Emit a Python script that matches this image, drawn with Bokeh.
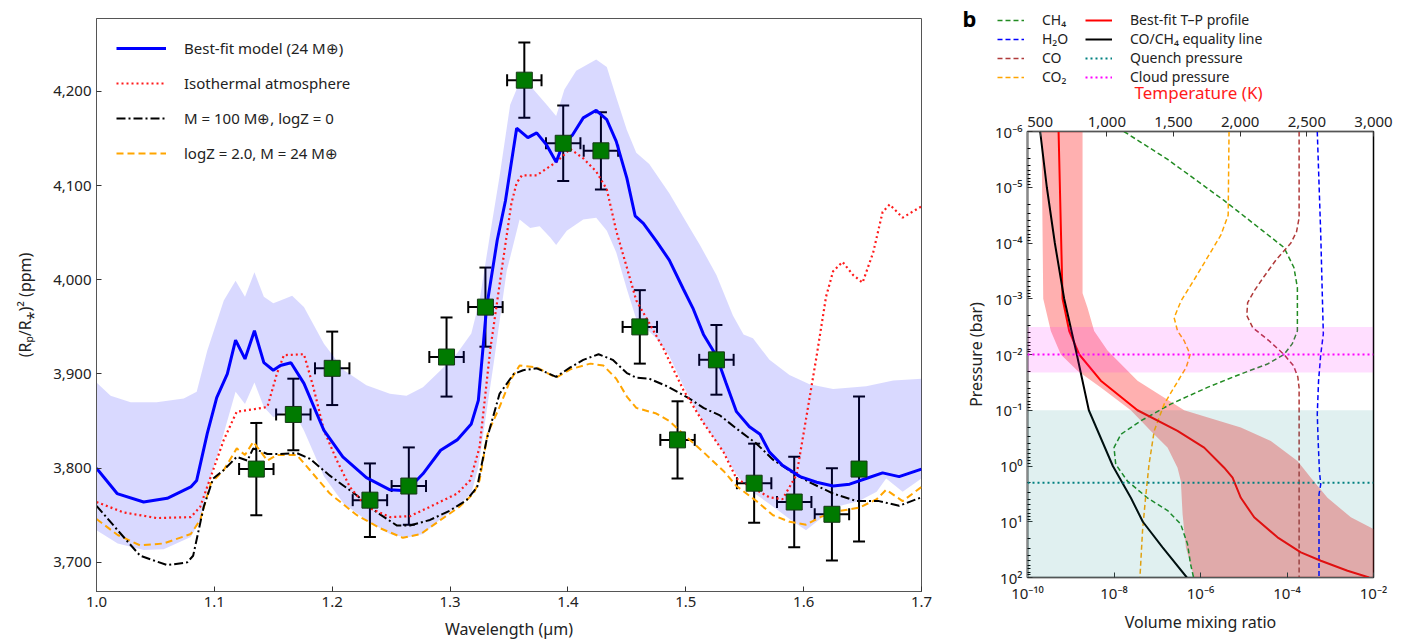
from bokeh.plotting import figure
from bokeh.layouts import row, column
from bokeh.models import (Range1d, LinearAxis, FixedTicker, NumeralTickFormatter, PrintfTickFormatter,
                          Legend, LegendItem, Whisker, TeeHead, ColumnDataSource, Label,
                          CustomJSTickFormatter, LinearScale, Span, BoxAnnotation)
from bokeh.embed import file_html
from bokeh.resources import INLINE

FONT = "Noto Sans"

# ---------------- Panel a data ----------------
obs_wl = [1.1356, 1.167, 1.200, 1.232, 1.265, 1.297, 1.330, 1.363, 1.396, 1.428,
          1.461, 1.493, 1.526, 1.558, 1.592, 1.624, 1.647]
obs_wl_err = [0.0146, 0.0146, 0.0146, 0.0146, 0.0146, 0.0146, 0.0146, 0.0146, 0.0146, 0.0146,
              0.0146, 0.0146, 0.0146, 0.0146, 0.0146, 0.0146, 0.0]
obs_depth = [3799, 3857, 3906, 3766, 3781, 3918, 3971, 4212, 4145, 4137,
             3950, 3830, 3915, 3784, 3764, 3751, 3799]
obs_err = [49, 38, 39, 39, 41, 42, 42, 40, 40, 41, 39, 41, 37, 42, 48, 49, 77]

bf_wl = [1.000, 1.0175, 1.040, 1.060, 1.080, 1.085, 1.094, 1.102, 1.111, 1.118, 1.126, 1.134, 1.142,
         1.150, 1.156, 1.165, 1.176, 1.193, 1.209, 1.229, 1.249, 1.263, 1.277, 1.292, 1.306, 1.318,
         1.324, 1.331, 1.340, 1.347, 1.3565, 1.366, 1.3735, 1.382, 1.390, 1.396, 1.404, 1.413, 1.424,
         1.433, 1.441, 1.450, 1.457, 1.464, 1.475, 1.486, 1.498, 1.506, 1.515, 1.526, 1.534, 1.543,
         1.554, 1.563, 1.571, 1.582, 1.597, 1.611, 1.625, 1.639, 1.653, 1.667, 1.681, 1.700]
bf_val = [3800, 3773, 3764, 3768, 3780, 3787, 3837, 3875, 3900, 3936, 3916, 3946, 3912,
          3904, 3909, 3912, 3890, 3840, 3812, 3790, 3777, 3776, 3794, 3819, 3830, 3847,
          3872, 3971, 4042, 4084, 4161, 4151, 4156, 4143, 4125, 4145, 4154, 4172, 4180,
          4170, 4147, 4108, 4068, 4060, 4041, 4021, 3990, 3970, 3942, 3919, 3891, 3860,
          3844, 3836, 3817, 3803, 3791, 3785, 3781, 3783, 3789, 3795, 3791, 3799]

iso_wl = [1.000, 1.023, 1.051, 1.080, 1.088, 1.097, 1.108, 1.119, 1.136, 1.145, 1.153, 1.159, 1.176,
          1.184, 1.193, 1.204, 1.215, 1.229, 1.249, 1.266, 1.283, 1.306, 1.317, 1.325, 1.334, 1.345,
          1.352, 1.3565, 1.361, 1.3735, 1.390, 1.402, 1.413, 1.424, 1.433, 1.441, 1.450, 1.458, 1.469,
          1.481, 1.498, 1.515, 1.532, 1.543, 1.554, 1.571, 1.582, 1.594, 1.602, 1.611, 1.619, 1.625,
          1.633, 1.642, 1.650, 1.659, 1.667, 1.673, 1.684, 1.700]
iso_val = [3764, 3753, 3747, 3748, 3759, 3791, 3830, 3860, 3863, 3865, 3900, 3920, 3921,
           3886, 3840, 3808, 3780, 3759, 3748, 3749, 3759, 3773, 3787, 3822, 3925, 4021,
           4081, 4103, 4111, 4111, 4125, 4139, 4129, 4115, 4096, 4052, 4013, 3978, 3954,
           3927, 3883, 3848, 3817, 3789, 3781, 3769, 3767, 3793, 3852, 3919, 3982, 4009,
           4019, 4005, 3997, 4029, 4072, 4080, 4066, 4078]

m100_wl = [1.000, 1.018, 1.037, 1.060, 1.077, 1.082, 1.091, 1.099, 1.108, 1.119, 1.128, 1.133, 1.145,
           1.156, 1.170, 1.181, 1.198, 1.221, 1.238, 1.255, 1.266, 1.283, 1.300, 1.314, 1.323, 1.331,
           1.342, 1.354, 1.362, 1.3735, 1.390, 1.402, 1.413, 1.426, 1.438, 1.450, 1.458, 1.469, 1.484,
           1.503, 1.515, 1.529, 1.543, 1.560, 1.574, 1.591, 1.605, 1.625, 1.645, 1.664, 1.681, 1.700]
m100_val = [3760, 3734, 3707, 3697, 3700, 3707, 3759, 3789, 3798, 3812, 3808, 3821, 3815,
            3815, 3816, 3810, 3792, 3771, 3753, 3739, 3739, 3745, 3755, 3766, 3780, 3830,
            3879, 3900, 3904, 3906, 3897, 3907, 3915, 3921, 3915, 3901, 3896, 3895, 3887,
            3874, 3864, 3856, 3842, 3826, 3809, 3795, 3785, 3773, 3765, 3765, 3760, 3769]

z2_wl = [1.000, 1.018, 1.037, 1.057, 1.080, 1.088, 1.097, 1.108, 1.119, 1.126, 1.133, 1.145, 1.153,
         1.170, 1.181, 1.198, 1.221, 1.241, 1.260, 1.275, 1.292, 1.308, 1.320, 1.325, 1.332, 1.342,
         1.351, 1.359, 1.3735, 1.390, 1.402, 1.419, 1.430, 1.441, 1.450, 1.458, 1.475, 1.486, 1.498,
         1.515, 1.532, 1.543, 1.560, 1.574, 1.588, 1.602, 1.614, 1.628, 1.647, 1.662, 1.670, 1.684, 1.700]
z2_val = [3746, 3729, 3718, 3720, 3730, 3745, 3784, 3798, 3821, 3814, 3828, 3808, 3814,
          3814, 3798, 3773, 3750, 3736, 3726, 3730, 3745, 3759, 3773, 3787, 3837, 3865,
          3893, 3909, 3907, 3896, 3905, 3911, 3909, 3895, 3876, 3864, 3858, 3850, 3836,
          3817, 3797, 3781, 3765, 3750, 3743, 3740, 3748, 3754, 3758, 3767, 3777, 3765, 3780]

band_up_wl = [1.000, 1.012, 1.029, 1.051, 1.074, 1.085, 1.094, 1.108, 1.118, 1.126, 1.134, 1.142,
              1.150, 1.156, 1.166, 1.176, 1.193, 1.210, 1.229, 1.249, 1.263, 1.277, 1.292, 1.306,
              1.318, 1.325, 1.334, 1.342, 1.351, 1.359, 1.368, 1.382, 1.390, 1.397, 1.407, 1.424,
              1.433, 1.441, 1.450, 1.458, 1.469, 1.486, 1.501, 1.512, 1.526, 1.540, 1.549, 1.557,
              1.571, 1.588, 1.605, 1.625, 1.653, 1.676, 1.700]
band_up_val = [3891, 3877, 3870, 3870, 3874, 3881, 3925, 3978, 3999, 3982, 4008, 3982,
               3975, 3978, 3983, 3971, 3932, 3904, 3888, 3879, 3877, 3886, 3904, 3922,
               3943, 3978, 4049, 4110, 4186, 4210, 4206, 4186, 4174, 4202, 4222, 4234,
               4226, 4194, 4159, 4135, 4123, 4092, 4060, 4037, 4005, 3962, 3942, 3938,
               3915, 3899, 3889, 3884, 3887, 3893, 3895]
band_lo_wl = [1.000, 1.018, 1.040, 1.057, 1.080, 1.088, 1.097, 1.108, 1.118, 1.126, 1.134, 1.142,
              1.150, 1.157, 1.166, 1.176, 1.193, 1.210, 1.229, 1.249, 1.263, 1.277, 1.292, 1.306,
              1.318, 1.324, 1.337, 1.348, 1.359, 1.368, 1.376, 1.385, 1.390, 1.399, 1.413, 1.424,
              1.433, 1.441, 1.450, 1.458, 1.475, 1.486, 1.498, 1.515, 1.532, 1.543, 1.554, 1.571,
              1.588, 1.602, 1.614, 1.628, 1.647, 1.662, 1.670, 1.684, 1.700]
band_lo_val = [3734, 3720, 3713, 3714, 3727, 3745, 3791, 3837, 3881, 3868, 3891, 3865,
               3854, 3858, 3863, 3840, 3791, 3762, 3745, 3730, 3726, 3730, 3746, 3759,
               3773, 3801, 3911, 4009, 4064, 4055, 4057, 4045, 4037, 4052, 4064, 4066,
               4052, 4029, 3990, 3958, 3938, 3919, 3887, 3848, 3817, 3793, 3777, 3762,
               3746, 3734, 3746, 3759, 3765, 3775, 3789, 3775, 3789]

a_xticks = [1.0, 1.1, 1.2, 1.3, 1.4, 1.5, 1.6, 1.7]
a_yticks = [3700, 3800, 3900, 4000, 4100, 4200]

# ---------------- Panel b data (log10 pressure in bar) ----------------
ch4_logp = [-6.0, -5.5, -4.76, -3.92, -3.56, -3.2, -2.42, -2.19, -2.0, -1.83, -1.65, -1.41, -1.11,
            -0.81, -0.57, -0.33, -0.03, 0.27, 0.57, 0.80, 1.04, 1.40, 1.76, 2.0]
ch4_logx = [-7.77, -6.76, -5.45, -4.07, -3.84, -3.76, -3.76, -3.88, -4.07, -4.45, -5.07, -5.84, -6.69,
            -7.38, -7.84, -8.0, -7.96, -7.69, -7.23, -6.76, -6.46, -6.30, -6.23, -6.16]
h2o_logp = [-6.0, -4.16, -2.96, -2.37, -2.0, -1.53, -0.93, -0.45, 0.09, 0.33, 0.51, 2.0]
h2o_logx = [-3.30, -3.22, -3.18, -3.16, -3.22, -3.27, -3.30, -3.28, -3.25, -3.22, -3.26, -3.26]
co_logp = [-6.0, -4.45, -4.2, -4.0, -3.7, -3.4, -3.15, -2.93, -2.7, -2.48, -2.25, -2.0, -1.8, -1.6, -1.4, 2.0]
co_logx = [-3.72, -3.72, -3.78, -3.91, -4.25, -4.53, -4.75, -4.91, -4.93, -4.79, -4.42, -4.07, -3.85, -3.75, -3.72, -3.72]
co2_logp = [-6.0, -4.5, -4.14, -3.44, -2.96, -2.66, -2.42, -2.25, -2.0, -1.77, -1.41, -1.11, -0.63, -0.03, 0.57, 1.16, 2.0]
co2_logx = [-5.34, -5.36, -5.53, -6.07, -6.45, -6.61, -6.53, -6.38, -6.24, -6.33, -6.61, -6.84, -7.07, -7.19, -7.27, -7.34, -7.40]

tp_logp = [-6.0, -3.0, -2.42, -2.0, -1.53, -1.0, -0.63, -0.33, 0.03, 0.21, 0.57, 0.92, 1.28, 1.55, 1.70, 1.88, 2.0]
tp_T = [638, 668, 718, 793, 955, 1230, 1530, 1730, 1880, 1943, 2005, 2105, 2280, 2455, 2605, 2805, 2967]
tband_hi_logp = [-6.0, -3.1, -2.84, -2.42, -2.07, -1.53, -1.0, -0.69, -0.45, -0.09, 0.21, 0.57, 0.92, 1.13, 2.0]
tband_hi_T = [818, 818, 855, 905, 1005, 1230, 1580, 2005, 2230, 2430, 2530, 2655, 2830, 3000, 3300]
tband_lo_logp = [-6.0, -3.0, -2.42, -2.0, -1.71, -1.41, -1.0, -0.63, -0.33, 0.03, 0.27, 0.86, 1.46, 2.0]
tband_lo_T = [510, 523, 580, 655, 780, 955, 1180, 1330, 1455, 1530, 1555, 1568, 1593, 1655]
eq_logp = [-6.0, -5.0, -4.0, -3.0, -2.0, -1.0, 0.0, 0.57, 1.0, 1.46, 2.0]
eq_T = [500, 550, 610, 680, 775, 865, 1045, 1180, 1270, 1418, 1600]

quench_p = 2.0
cloud_p = 0.01
cloud_band = [0.0032, 0.021]
quench_band = [0.1, 100.0]

b_yticks = [1e-6, 1e-5, 1e-4, 1e-3, 1e-2, 1e-1, 1e0, 1e1, 1e2]
b_xticks = [1e-10, 1e-8, 1e-6, 1e-4, 1e-2]
t_ticks = [500, 1000, 1500, 2000, 2500, 3000]


def style_axis(ax, size="14px", lsize="15px"):
    ax.major_label_text_font = FONT
    ax.major_label_text_font_size = size
    ax.major_label_text_color = "#222222"
    ax.axis_label_text_font = FONT
    ax.axis_label_text_font_style = "normal"
    ax.axis_label_text_font_size = lsize
    ax.axis_label_text_color = "#222222"
    ax.major_tick_in = 5
    ax.major_tick_out = 0
    ax.minor_tick_in = 0
    ax.minor_tick_out = 0
    ax.axis_line_color = "#555555"
    ax.major_tick_line_color = "#333333"


# ---------------- Panel a ----------------
pa = figure(width=950, height=644, x_range=Range1d(1.0, 1.7), y_range=Range1d(3669, 4277.5),
            output_backend="svg", toolbar_location=None,
            min_border_left=96, min_border_right=29, min_border_top=18, min_border_bottom=53)
pa.frame_align = False
pa.grid.visible = False
pa.outline_line_color = "#555555"
pa.xaxis.ticker = FixedTicker(ticks=a_xticks)
pa.xaxis.formatter = PrintfTickFormatter(format="%.1f")
pa.yaxis.ticker = FixedTicker(ticks=a_yticks)
pa.yaxis.formatter = NumeralTickFormatter(format="0,0")
pa.xaxis.axis_label = "Wavelength (µm)"
pa.yaxis.axis_label = "(Rₚ/R⁎)² (ppm)"
for ax in pa.xaxis + pa.yaxis:
    style_axis(ax, size="15px", lsize="16px")
pa.yaxis.axis_label_standoff = 14
pa.xaxis.axis_label_standoff = 8

pa.patch(band_up_wl + band_lo_wl[::-1], band_up_val + band_lo_val[::-1],
         fill_color="#0000ff", fill_alpha=0.15, line_alpha=0)
r_z2 = pa.line(z2_wl, z2_val, line_color="#ffa500", line_width=2, line_dash="7 4")
r_m100 = pa.line(m100_wl, m100_val, line_color="black", line_width=2, line_dash="9 3 2 3")
r_iso = pa.line(iso_wl, iso_val, line_color="#ff1a1a", line_width=2.2, line_dash="2 3")
r_bf = pa.line(bf_wl, bf_val, line_color="#0000ff", line_width=3)

src = ColumnDataSource(dict(
    x=obs_wl, y=obs_depth,
    yl=[d - e for d, e in zip(obs_depth, obs_err)],
    yu=[d + e for d, e in zip(obs_depth, obs_err)],
    xl=[w - e for w, e in zip(obs_wl, obs_wl_err)],
    xu=[w + e for w, e in zip(obs_wl, obs_wl_err)],
))
wy = Whisker(source=src, base="x", lower="yl", upper="yu", dimension="height",
             line_color="black", line_width=2,
             upper_head=TeeHead(size=12, line_width=2, line_color="black"),
             lower_head=TeeHead(size=12, line_width=2, line_color="black"))
wx = Whisker(source=src, base="y", lower="xl", upper="xu", dimension="width",
             line_color="black", line_width=2,
             upper_head=TeeHead(size=12, line_width=2, line_color="black"),
             lower_head=TeeHead(size=12, line_width=2, line_color="black"))
pa.add_layout(wy)
pa.add_layout(wx)
pa.scatter("x", "y", source=src, marker="square", size=16, fill_color="#007a00",
           line_color="#163816", line_width=1)

leg_a = Legend(items=[
    LegendItem(label="Best-fit model (24 M⊕)", renderers=[r_bf]),
    LegendItem(label="Isothermal atmosphere", renderers=[r_iso]),
    LegendItem(label="M = 100 M⊕, logZ = 0", renderers=[r_m100]),
    LegendItem(label="logZ = 2.0, M = 24 M⊕", renderers=[r_z2]),
], location="top_left", border_line_alpha=0, background_fill_alpha=0,
    glyph_width=50, glyph_height=20, label_height=20, spacing=15, label_standoff=18,
    margin=10, padding=10, label_text_font=FONT, label_text_font_size="15px",
    label_text_color="#222222")
pa.add_layout(leg_a)

pa.add_layout(Label(text="a", x=-86, y=574, x_units="screen", y_units="screen",
                    text_font=FONT, text_font_style="bold", text_font_size="22px",
                    text_baseline="middle", text_align="left", text_color="black"))

# ---------------- Panel b legend strip ----------------
LEG_H = 106
pl = figure(width=457, height=LEG_H, x_range=Range1d(0, 1), y_range=Range1d(0, 1),
            output_backend="svg", toolbar_location=None,
            min_border_left=0, min_border_right=0, min_border_top=0, min_border_bottom=0)
pl.frame_align = False
pl.axis.visible = False
pl.grid.visible = False
pl.outline_line_color = None

# legend proxies (kept outside the strip's visible range)
proxy_x = [2, 3]
proxy_y = [2, 3]
l_ch4 = pl.line(proxy_x, proxy_y, line_color="#228b22", line_width=1.5, line_dash="5 3")
l_h2o = pl.line(proxy_x, proxy_y, line_color="#0000ff", line_width=1.5, line_dash="5 3")
l_co = pl.line(proxy_x, proxy_y, line_color="#b03a3a", line_width=1.5, line_dash="5 3")
l_co2 = pl.line(proxy_x, proxy_y, line_color="#ffa500", line_width=1.5, line_dash="5 3")
l_tp = pl.line(proxy_x, proxy_y, line_color="#ff0000", line_width=2)
l_eq = pl.line(proxy_x, proxy_y, line_color="black", line_width=2)
l_q = pl.line(proxy_x, proxy_y, line_color="#008080", line_width=2, line_dash="2 3")
l_c = pl.line(proxy_x, proxy_y, line_color="#ff00ff", line_width=2, line_dash="2 3")

leg_kw = dict(orientation="vertical", border_line_alpha=0, background_fill_alpha=0,
              glyph_width=27, glyph_height=18, label_height=18, spacing=0, label_standoff=18,
              margin=0, padding=0, label_text_font=FONT, label_text_font_size="14px",
              label_text_color="#222222")
leg_b1 = Legend(items=[
    LegendItem(label="CH₄", renderers=[l_ch4]),
    LegendItem(label="H₂O", renderers=[l_h2o]),
    LegendItem(label="CO", renderers=[l_co]),
    LegendItem(label="CO₂", renderers=[l_co2]),
], location=(47, LEG_H - 86), **leg_kw)
leg_b2 = Legend(items=[
    LegendItem(label="Best-fit T–P profile", renderers=[l_tp]),
    LegendItem(label="CO/CH₄ equality line", renderers=[l_eq]),
    LegendItem(label="Quench pressure", renderers=[l_q]),
    LegendItem(label="Cloud pressure", renderers=[l_c]),
], location=(135, LEG_H - 86), **leg_kw)
pl.add_layout(leg_b1)
pl.add_layout(leg_b2)
pl.add_layout(Label(text="b", x=12, y=LEG_H - 17, x_units="screen", y_units="screen",
                    text_font=FONT, text_font_style="bold", text_font_size="22px",
                    text_baseline="middle", text_align="left", text_color="black"))
pl.add_layout(Label(text="Temperature (K)", x=248, y=LEG_H - 92, x_units="screen", y_units="screen",
                    text_font=FONT, text_font_size="17px", text_baseline="middle",
                    text_align="center", text_color="#ff1a1a"))

# ---------------- Panel b ----------------
pb = figure(width=457, height=644 - LEG_H, x_axis_type="log", y_axis_type="log",
            x_range=Range1d(1e-10, 1e-2), y_range=Range1d(1e2, 1e-6),
            output_backend="svg", toolbar_location=None,
            min_border_left=77, min_border_right=34, min_border_top=131 - LEG_H, min_border_bottom=67)
pb.frame_align = False
pb.extra_x_ranges = {"T": Range1d(405, 3000)}
pb.extra_x_scales = {"T": LinearScale()}
pb.grid.visible = False
pb.outline_line_color = "black"
pb.outline_line_width = 1.5

sup_js = """
const sup = {"-":"\u207b","0":"\u2070","1":"\u00b9","2":"\u00b2","3":"\u00b3","4":"\u2074","5":"\u2075","6":"\u2076","7":"\u2077","8":"\u2078","9":"\u2079"};
const e = Math.round(Math.log10(tick));
return "10" + String(e).split("").map(c => sup[c]).join("");
"""
minor_p = [m * 10.0 ** k for k in range(-6, 2) for m in range(2, 10)]
pb.yaxis.ticker = FixedTicker(ticks=b_yticks, minor_ticks=minor_p)
pb.yaxis.formatter = CustomJSTickFormatter(code=sup_js)
pb.xaxis.ticker = FixedTicker(ticks=b_xticks)
pb.xaxis.formatter = CustomJSTickFormatter(code=sup_js)
pb.xaxis.axis_label = "Volume mixing ratio"
pb.yaxis.axis_label = "Pressure (bar)"
for ax in pb.xaxis + pb.yaxis:
    style_axis(ax, size="15px", lsize="16px")
pb.yaxis.minor_tick_in = 3
pb.yaxis.axis_line_color = "#888888"
pb.yaxis.axis_line_width = 2

top_axis = LinearAxis(x_range_name="T", ticker=FixedTicker(ticks=t_ticks),
                      formatter=NumeralTickFormatter(format="0,0"))
style_axis(top_axis, size="15px", lsize="17px")
top_axis.major_label_standoff = 5
pb.add_layout(top_axis, "above")

pb.add_layout(BoxAnnotation(bottom=quench_band[1], top=quench_band[0], fill_color="#008080",
                            fill_alpha=0.12, line_alpha=0))
pb.add_layout(BoxAnnotation(bottom=cloud_band[1], top=cloud_band[0], fill_color="#ff00ff",
                            fill_alpha=0.13, line_alpha=0))

tb_T = tband_lo_T + tband_hi_T[::-1]
tb_P = [10 ** v for v in tband_lo_logp] + [10 ** v for v in tband_hi_logp[::-1]]
pb.patch(tb_T, tb_P, x_range_name="T", fill_color="#ff3030", fill_alpha=0.38, line_alpha=0)


def P(lst):
    return [10 ** v for v in lst]


pb.line(P(ch4_logx), P(ch4_logp), line_color="#228b22", line_width=1.5, line_dash="5 3")
pb.line(P(h2o_logx), P(h2o_logp), line_color="#0000ff", line_width=1.5, line_dash="5 3")
pb.line(P(co_logx), P(co_logp), line_color="#b03a3a", line_width=1.5, line_dash="5 3")
pb.line(P(co2_logx), P(co2_logp), line_color="#ffa500", line_width=1.5, line_dash="5 3")
pb.line(tp_T, P(tp_logp), x_range_name="T", line_color="#ff0000", line_width=2)
pb.line(eq_T, P(eq_logp), x_range_name="T", line_color="black", line_width=2)

pb.add_layout(Span(location=quench_p, dimension="width", line_color="#008080",
                   line_width=2, line_dash="2 3"))
pb.add_layout(Span(location=cloud_p, dimension="width", line_color="#ff00ff",
                   line_width=2, line_dash="2 3"))

layout = row(pa, column(pl, pb))
open("out.html", "w").write(file_html(layout, INLINE))
